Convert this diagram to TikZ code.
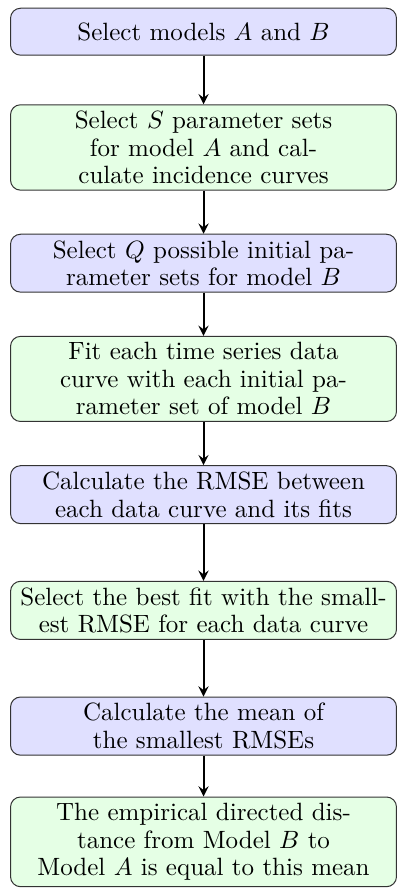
\documentclass[tikz,border=0pt]{standalone}
\usepackage{amsmath}

\tikzset{
    stage/.style={rectangle, rounded corners, draw=black!80, text width=5.25cm,
        inner sep=2.5pt, align=center, minimum height=0.66cm,
        font={\fontsize{10}{11}\selectfont}},
    bluestage/.style={stage, fill=blue!12},
    greenstage/.style={stage, fill=green!10},
    flow/.style={->, >=stealth, thick}
}

\begin{document}
\begin{tikzpicture}
        \useasboundingbox (-2.861, 0.446) rectangle (2.734, -12.066);

        % line breaks set by hand
        \node[bluestage]  at (0, 0)         (models)  {Select models $A$ and $B$};
        \node[greenstage] at (0, -1.627)    (sets)    {Select $S$ parameter sets\\ for model $A$ and cal-\\culate incidence curves};
        \node[bluestage]  at (0, -3.254)    (init)    {Select $Q$ possible initial pa-\\rameter sets for model $B$};
        \node[greenstage] at (0, -4.881)    (fit)     {Fit each time series data\\ curve with each initial pa-\\rameter set of model $B$};
        \node[bluestage]  at (0, -6.508)    (rmse)    {Calculate the RMSE between\\ each data curve and its fits};
        \node[greenstage] at (0, -8.135)    (best)    {Select the best fit with the small-\\est RMSE for each data curve};
        \node[bluestage]  at (0, -9.762)    (mean)    {Calculate the mean of\\ the smallest RMSEs};
        \node[greenstage] at (0, -11.389)   (dist)    {The empirical directed dis-\\tance from Model $B$ to\\ Model $A$ is equal to this mean};

        \draw[flow] (models) -- (sets);
        \draw[flow] (sets) -- (init);
        \draw[flow] (init) -- (fit);
        \draw[flow] (fit) -- (rmse);
        \draw[flow] (rmse) -- (best);
        \draw[flow] (best) -- (mean);
        \draw[flow] (mean) -- (dist);
    \end{tikzpicture}
\end{document}
